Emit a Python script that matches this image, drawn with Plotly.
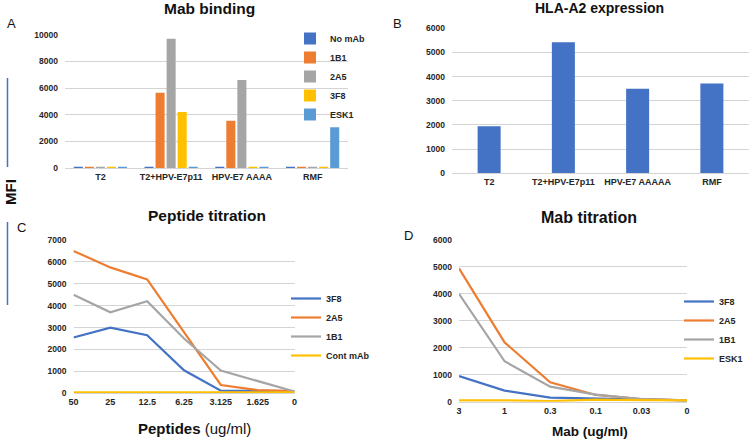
import plotly.graph_objects as go

W, H = 750, 439

# ---------------- data ----------------
# Panel A: Mab binding
cat_a = ["T2", "T2+HPV-E7p11", "HPV-E7 AAAA", "RMF"]
a_series = ["No mAb", "1B1", "2A5", "3F8", "ESK1"]
a_nomab = [100, 100, 100, 100]
a_1b1 = [100, 5650, 3550, 100]
a_2a5 = [100, 9700, 6600, 100]
a_3f8 = [100, 4200, 100, 100]
a_esk1 = [100, 100, 100, 3050]

# Panel B: HLA-A2 expression
cat_b = ["T2", "T2+HPV-E7p11", "HPV-E7 AAAAA", "RMF"]
b_vals = [1950, 5420, 3500, 3720]

# Panel C: Peptide titration
cat_c = ["50", "25", "12.5", "6.25", "3.125", "1.625", "0"]
c_3f8 = [2550, 3000, 2650, 1050, 120, 100, 100]
c_2a5 = [6500, 5750, 5200, 2800, 380, 150, 100]
c_1b1 = [4500, 3700, 4200, 2500, 1040, 560, 80]
c_cont = [40, 40, 40, 40, 40, 40, 40]

# Panel D: Mab titration
cat_d = ["3", "1", "0.3", "0.1", "0.03", "0"]
d_3f8 = [950, 410, 150, 110, 80, 50]
d_2a5 = [4950, 2200, 720, 250, 100, 50]
d_1b1 = [4000, 1500, 560, 260, 100, 50]
d_esk1 = [50, 50, 20, 80, 60, 50]

BLUE, ORANGE, GRAY, YELLOW, LBLUE = "#4472C4", "#ED7D31", "#A5A5A5", "#FFC000", "#5B9BD5"
FONT = "Arial, Liberation Sans, sans-serif"
GRID = "#D4D4D4"
TXT = "#262626"


def px(x):
    return x / W


def py(y):
    return 1 - y / H


fig = go.Figure()

# ---- A bars ----
for name, vals, col in zip(a_series, [a_nomab, a_1b1, a_2a5, a_3f8, a_esk1],
                           [BLUE, ORANGE, GRAY, YELLOW, LBLUE]):
    fig.add_trace(go.Bar(x=cat_a, y=vals, name=name, marker_color=col,
                         marker_line_width=0, xaxis="x", yaxis="y", legend="legend"))

# ---- B bars ----
fig.add_trace(go.Bar(x=cat_b, y=b_vals, name="HLA-A2", marker_color=BLUE, marker_line_width=0,
                     width=0.31, xaxis="x2", yaxis="y2", showlegend=False))

# ---- C lines ----
for name, vals, col in zip(["3F8", "2A5", "1B1", "Cont mAb"], [c_3f8, c_2a5, c_1b1, c_cont],
                           [BLUE, ORANGE, GRAY, YELLOW]):
    fig.add_trace(go.Scatter(x=cat_c, y=vals, name=name, mode="lines",
                             line=dict(color=col, width=2.2), xaxis="x3", yaxis="y3",
                             legend="legend2"))

# ---- D lines ----
for name, vals, col in zip(["3F8", "2A5", "1B1", "ESK1"], [d_3f8, d_2a5, d_1b1, d_esk1],
                           [BLUE, ORANGE, GRAY, YELLOW]):
    fig.add_trace(go.Scatter(x=cat_d, y=vals, name=name, mode="lines",
                             line=dict(color=col, width=2.2), xaxis="x4", yaxis="y4",
                             legend="legend3"))

tickfont = dict(family=FONT, size=8.5, color=TXT, weight="bold")
catfont = dict(family=FONT, size=9, color=TXT, weight="bold")


def xax(dom, anchor):
    return dict(domain=dom, anchor=anchor, type="category", showgrid=False, zeroline=False,
                showline=True, linecolor=GRID, linewidth=1, ticks="", tickfont=catfont,
                fixedrange=True)


def yax(dom, anchor, rng, dtick):
    return dict(domain=dom, anchor=anchor, range=rng, dtick=dtick, tickformat="d",
                showgrid=True, gridcolor=GRID, gridwidth=1, zeroline=False, showline=False,
                ticks="", tickfont=tickfont, ticklabelstandoff=6, fixedrange=True)


legfont = dict(family=FONT, size=9, color=TXT, weight="bold")

fig.update_layout(
    width=W, height=H,
    margin=dict(l=0, r=0, t=0, b=0, autoexpand=False),
    paper_bgcolor="white", plot_bgcolor="white",
    barmode="group", bargap=0.22, bargroupgap=0.18,
    font=dict(family=FONT, color=TXT),
    xaxis=xax([px(65), px(348)], "y"),
    yaxis=yax([py(168), py(34.7)], "x", [0, 10000], 2000),
    xaxis2=xax([px(452), px(749)], "y2"),
    yaxis2=yax([py(173.3), py(28.3)], "x2", [0, 6000], 1000),
    xaxis3=xax([px(73.5), px(294.5)], "y3"),
    yaxis3=yax([py(393.3), py(240)], "x3", [0, 7000], 1000),
    xaxis4=xax([px(459), px(687)], "y4"),
    yaxis4=yax([py(401.7), py(240)], "x4", [0, 6000], 1000),
    legend=dict(x=px(290), y=py(24), xanchor="left", yanchor="top", bgcolor="rgba(0,0,0,0)",
                font=legfont, tracegroupgap=0),
    legend2=dict(x=px(286), y=py(284), xanchor="left", yanchor="top", bgcolor="rgba(0,0,0,0)",
                 font=legfont),
    legend3=dict(x=px(679), y=py(287), xanchor="left", yanchor="top", bgcolor="rgba(0,0,0,0)",
                 font=legfont),
)

anns = []


def ann(text, x, y, size, bold=True, angle=0, color="#111"):
    anns.append(dict(text=(f"<b>{text}</b>" if bold else text), x=px(x), y=py(y),
                     xref="paper", yref="paper", showarrow=False, xanchor="center",
                     yanchor="middle", textangle=angle,
                     font=dict(family=FONT, size=size, color=color)))


ann("Mab binding", 209, 9, 15.5)
ann("HLA-A2 expression", 599, 8, 14)
ann("Peptide titration", 207, 215, 15.5)
ann("Mab titration", 589, 217, 16)
ann("A", 11, 23, 13, bold=False)
ann("B", 398, 23, 13, bold=False)
ann("C", 21, 227, 13, bold=False)
ann("D", 408, 235, 13, bold=False)
ann("MFI", 10, 192, 15, angle=-90)
# x-axis titles of panels C and D
ann("<b>Peptides</b> (ug/ml)", 194, 428, 15, bold=False)
ann("Mab (ug/ml)", 590, 431, 13.5)
fig.update_layout(annotations=anns)

# decorative blue bars beside MFI
for y0, y1 in [(78, 167), (222, 305)]:
    fig.add_shape(type="line", xref="paper", yref="paper", x0=px(7.5), x1=px(7.5),
                  y0=py(y0), y1=py(y1), line=dict(color=BLUE, width=1.5))

# remove the browser's default page margin so the 750x439 figure fills the window
fig.write_html("out.html", config={"displayModeBar": False},
               post_script="document.body.style.margin='0px';")
